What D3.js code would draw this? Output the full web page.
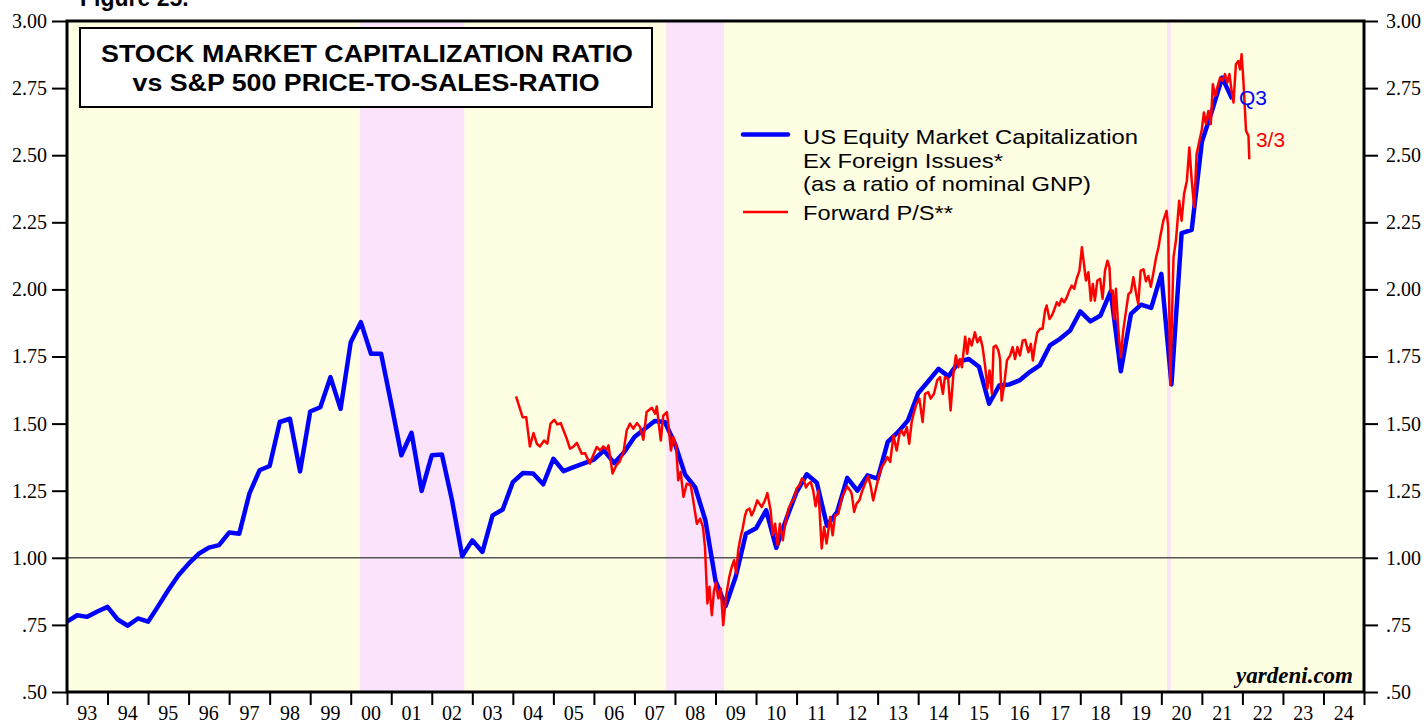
<!DOCTYPE html>
<html>
<head>
<meta charset="utf-8">
<script src="https://cdn.jsdelivr.net/npm/d3@7"></script>
<style>
body{margin:0;background:#fff}
svg{display:block}
</style>
</head>
<body>
<svg width="1426" height="721"></svg>
<script>
// quarterly market cap / GNP, first value = 1992 Q4 (plotted at quarter end)
var capStart = 1993.0
var capRatio = [0.762,0.786,0.780,0.800,0.817,0.770,0.747,0.774,0.762,0.820,
  0.880,0.935,0.978,1.015,1.038,1.047,1.094,1.090,1.239,1.326,
  1.342,1.506,1.518,1.322,1.545,1.561,1.673,1.555,1.803,1.878,
  1.760,1.760,1.574,1.382,1.466,1.249,1.382,1.385,1.214,1.006,
  1.065,1.022,1.158,1.180,1.282,1.316,1.314,1.274,1.369,1.323,
  1.338,1.352,1.366,1.400,1.353,1.394,1.450,1.480,1.510,1.506,
  1.425,1.310,1.262,1.140,0.915,0.820,0.930,1.090,1.110,1.177,
  1.037,1.146,1.245,1.311,1.280,1.120,1.170,1.298,1.250,1.307,
  1.295,1.432,1.468,1.512,1.613,1.658,1.704,1.676,1.730,1.741,
  1.712,1.574,1.642,1.646,1.661,1.692,1.717,1.791,1.816,1.847,
  1.918,1.881,1.903,1.993,1.695,1.909,1.943,1.931,2.058,1.646,
  2.210,2.222,2.550,2.665,2.789,2.709]

// forward price-to-sales [decimal year, value]
var forwardPS = [[2004.08,1.601],[2004.24,1.524],[2004.33,1.524],[2004.42,1.415],[2004.51,1.465],
  [2004.59,1.425],[2004.67,1.415],[2004.77,1.437],[2004.85,1.425],[2004.93,1.500],[2005.02,1.514],
  [2005.10,1.497],[2005.18,1.502],[2005.33,1.444],[2005.41,1.407],[2005.49,1.413],[2005.58,1.428],
  [2005.70,1.388],[2005.78,1.390],[2005.90,1.351],[2005.99,1.385],[2006.07,1.413],[2006.15,1.400],
  [2006.23,1.415],[2006.32,1.403],[2006.36,1.419],[2006.46,1.314],[2006.55,1.344],[2006.63,1.357],
  [2006.73,1.394],[2006.81,1.475],[2006.89,1.500],[2006.97,1.481],[2007.06,1.502],[2007.14,1.487],
  [2007.22,1.440],[2007.30,1.543],[2007.43,1.559],[2007.51,1.537],[2007.55,1.564],[2007.65,1.437],
  [2007.71,1.530],[2007.80,1.543],[2007.84,1.493],[2007.90,1.400],[2007.96,1.450],[2008.03,1.413],
  [2008.08,1.289],[2008.14,1.320],[2008.21,1.227],[2008.29,1.276],[2008.39,1.270],[2008.45,1.214],
  [2008.54,1.127],[2008.62,1.146],[2008.69,1.115],[2008.74,1.041],[2008.80,0.830],[2008.85,0.892],
  [2008.91,0.786],[2008.96,0.873],[2009.01,0.907],[2009.07,0.849],[2009.13,0.886],[2009.19,0.749],
  [2009.26,0.855],[2009.34,0.929],[2009.40,0.966],[2009.46,0.991],[2009.51,0.942],[2009.56,1.028],
  [2009.62,1.078],[2009.67,1.109],[2009.73,1.158],[2009.77,1.177],[2009.84,1.183],[2009.89,1.158],
  [2009.95,1.177],[2010.03,1.214],[2010.14,1.189],[2010.22,1.214],[2010.28,1.241],[2010.36,1.177],
  [2010.41,1.084],[2010.47,1.127],[2010.53,1.047],[2010.59,1.127],[2010.66,1.065],[2010.72,1.127],
  [2010.80,1.183],[2010.88,1.208],[2010.94,1.221],[2011.00,1.258],[2011.07,1.270],[2011.13,1.295],
  [2011.18,1.289],[2011.23,1.262],[2011.29,1.276],[2011.35,1.282],[2011.41,1.251],[2011.47,1.192],
  [2011.54,1.251],[2011.62,1.035],[2011.68,1.115],[2011.74,1.053],[2011.83,1.152],[2011.89,1.084],
  [2011.95,1.158],[2012.03,1.164],[2012.11,1.221],[2012.20,1.251],[2012.25,1.266],[2012.32,1.251],
  [2012.36,1.239],[2012.42,1.171],[2012.48,1.202],[2012.55,1.214],[2012.61,1.245],[2012.69,1.276],
  [2012.77,1.304],[2012.83,1.266],[2012.89,1.214],[2012.96,1.258],[2013.04,1.310],[2013.10,1.338],
  [2013.18,1.357],[2013.24,1.375],[2013.31,1.357],[2013.39,1.455],[2013.47,1.400],[2013.54,1.462],
  [2013.59,1.475],[2013.65,1.456],[2013.72,1.487],[2013.78,1.425],[2013.84,1.506],[2013.90,1.543],
  [2013.96,1.574],[2014.03,1.593],[2014.11,1.506],[2014.17,1.611],[2014.25,1.617],[2014.31,1.593],
  [2014.39,1.611],[2014.47,1.661],[2014.54,1.673],[2014.61,1.611],[2014.66,1.673],[2014.74,1.667],
  [2014.80,1.549],[2014.87,1.686],[2014.93,1.754],[2014.99,1.710],[2015.03,1.741],[2015.08,1.710],
  [2015.16,1.824],[2015.21,1.760],[2015.26,1.816],[2015.32,1.791],[2015.40,1.840],[2015.46,1.803],
  [2015.53,1.822],[2015.59,1.785],[2015.65,1.717],[2015.71,1.630],[2015.76,1.698],[2015.82,1.611],
  [2015.86,1.785],[2015.92,1.791],[2015.98,1.772],[2016.02,1.741],[2016.06,1.586],[2016.12,1.642],
  [2016.19,1.735],[2016.27,1.754],[2016.33,1.785],[2016.39,1.741],[2016.45,1.785],[2016.51,1.754],
  [2016.58,1.810],[2016.64,1.812],[2016.72,1.766],[2016.78,1.797],[2016.83,1.735],[2016.88,1.791],
  [2016.94,1.840],[2017.01,1.853],[2017.07,1.853],[2017.13,1.921],[2017.17,1.940],[2017.24,1.890],
  [2017.30,1.903],[2017.35,1.921],[2017.42,1.952],[2017.48,1.940],[2017.54,1.965],[2017.60,1.952],
  [2017.67,1.971],[2017.73,1.996],[2017.79,2.014],[2017.85,2.002],[2017.91,2.039],[2017.98,2.070],
  [2018.04,2.157],[2018.09,2.095],[2018.14,2.033],[2018.20,2.064],[2018.26,1.958],[2018.31,2.020],
  [2018.36,1.958],[2018.42,2.033],[2018.49,2.039],[2018.55,1.965],[2018.61,2.070],[2018.67,2.107],
  [2018.72,2.082],[2018.75,1.990],[2018.80,1.996],[2018.83,1.890],[2018.88,2.002],[2018.94,1.847],
  [2019.00,1.747],[2019.06,1.847],[2019.13,1.921],[2019.19,1.983],[2019.25,1.990],[2019.31,2.045],
  [2019.38,1.983],[2019.43,1.946],[2019.49,2.070],[2019.56,2.075],[2019.62,2.030],[2019.68,2.050],
  [2019.74,2.010],[2019.80,2.058],[2019.87,2.119],[2019.93,2.157],[2019.97,2.194],[2020.05,2.256],
  [2020.13,2.293],[2020.17,2.231],[2020.22,1.645],[2020.30,2.119],[2020.36,2.182],[2020.44,2.330],
  [2020.50,2.256],[2020.56,2.355],[2020.63,2.405],[2020.69,2.529],[2020.75,2.405],[2020.81,2.306],
  [2020.87,2.504],[2020.94,2.554],[2021.00,2.597],[2021.05,2.659],[2021.10,2.616],[2021.16,2.665],
  [2021.22,2.616],[2021.27,2.764],[2021.33,2.721],[2021.38,2.752],[2021.45,2.789],[2021.51,2.777],
  [2021.57,2.802],[2021.63,2.771],[2021.68,2.802],[2021.74,2.733],[2021.78,2.696],[2021.84,2.839],
  [2021.90,2.851],[2021.94,2.820],[2021.98,2.876],[2022.02,2.789],[2022.09,2.591],[2022.15,2.572],
  [2022.17,2.485]]

var bearMarkets = [[2000.23,2002.80],[2007.78,2009.21],[2020.14,2020.23]]
var yTicks = [0.5,0.75,1.0,1.25,1.5,1.75,2.0,2.25,2.5,2.75,3.0]
var years = d3.range(1993,2025)

var svg = d3.select("svg")
var plotL = 67, plotR = 1364, plotT = 21, plotB = 692

var x = d3.scaleLinear().domain([1993,2025]).range([plotL,plotR])
var y = d3.scaleLinear().domain([0.5,3.0]).range([plotB,plotT])

var fmt = function(v){ var s = d3.format(".2f")(v); return v < 1 ? s.slice(1) : s }

// background
svg.append("rect").attr("x",plotL).attr("y",plotT).attr("width",plotR-plotL).attr("height",plotB-plotT)
  .attr("fill","#fefee3")

svg.append("g").selectAll("rect").data(bearMarkets).enter().append("rect")
  .attr("x",function(d){ return x(d[0]) })
  .attr("width",function(d){ return x(d[1])-x(d[0]) })
  .attr("y",plotT).attr("height",plotB-plotT)
  .attr("fill","#fbe4fb")

// 1.00 reference line
svg.append("line").attr("x1",plotL).attr("x2",plotR).attr("y1",y(1)).attr("y2",y(1))
  .attr("stroke","#555").attr("stroke-width",1.5)

// axes
var yl = svg.append("g").attr("transform","translate("+plotL+",0)")
  .call(d3.axisLeft(y).tickValues(yTicks).tickSize(15).tickPadding(5).tickFormat(fmt))
var yr = svg.append("g").attr("transform","translate("+plotR+",0)")
  .call(d3.axisRight(y).tickValues(yTicks).tickSize(14).tickPadding(8).tickFormat(fmt))
var xb = svg.append("g").attr("transform","translate(0,"+plotB+")")
  .call(d3.axisBottom(x).tickValues(d3.range(1993,2026)).tickSize(13).tickFormat(""))

;[yl,yr,xb].forEach(function(g){
  g.select(".domain").remove()
  g.selectAll("line").attr("stroke","#000").attr("stroke-width",2)
  g.selectAll("text").attr("font-family","Liberation Serif, Times New Roman, serif")
    .attr("font-size",20).attr("fill","#000")
})

svg.append("g").selectAll("text").data(years).enter().append("text")
  .attr("x",function(d){ return x(d+0.5) }).attr("y",720)
  .attr("text-anchor","middle")
  .attr("font-family","Liberation Serif, Times New Roman, serif").attr("font-size",20)
  .text(function(d){ return String(d).slice(2) })

// series
var line = d3.line().x(function(d){ return x(d[0]) }).y(function(d){ return y(d[1]) })
var capData = capRatio.map(function(v,i){ return [capStart+i*0.25, v] })

svg.append("path").datum(capData).attr("d",line)
  .attr("fill","none").attr("stroke","#0000ff").attr("stroke-width",4.5)
  .attr("stroke-linejoin","round")
svg.append("path").datum(forwardPS).attr("d",line)
  .attr("fill","none").attr("stroke","#ff0000").attr("stroke-width",2.5)
  .attr("stroke-linejoin","round")

// frame
svg.append("rect").attr("x",plotL).attr("y",plotT).attr("width",plotR-plotL).attr("height",plotB-plotT)
  .attr("fill","none").attr("stroke","#000").attr("stroke-width",3)

// title box
svg.append("rect").attr("x",80).attr("y",28).attr("width",572).attr("height",79)
  .attr("fill","#fff").attr("stroke","#000").attr("stroke-width",2)
var title = svg.append("g").attr("font-family","Liberation Sans, Arial, sans-serif")
  .attr("font-weight","bold").attr("font-size",23).attr("text-anchor","middle")
title.append("text").attr("x",367).attr("y",62).attr("textLength",532)
  .attr("lengthAdjust","spacingAndGlyphs").text("STOCK MARKET CAPITALIZATION RATIO")
title.append("text").attr("x",366).attr("y",91).attr("textLength",467)
  .attr("lengthAdjust","spacingAndGlyphs").text("vs S&P 500 PRICE-TO-SALES-RATIO")

svg.append("text").attr("x",80).attr("y",6).attr("font-family","Liberation Sans, Arial, sans-serif")
  .attr("font-weight","bold").attr("font-size",23).text("Figure 25.")

// legend
var lg = svg.append("g").attr("font-family","Liberation Sans, Arial, sans-serif").attr("font-size",21)
lg.append("line").attr("x1",743).attr("x2",788).attr("y1",134.5).attr("y2",134.5)
  .attr("stroke","#0000ff").attr("stroke-width",4.5).attr("stroke-linecap","round")
lg.append("line").attr("x1",743).attr("x2",788).attr("y1",212).attr("y2",212)
  .attr("stroke","#ff0000").attr("stroke-width",2.5)
var legendText = [["US Equity Market Capitalization",144,335],["Ex Foreign Issues*",168,200],
  ["(as a ratio of nominal GNP)",191,288],["Forward P/S**",220,150]]
lg.selectAll("text").data(legendText).enter().append("text")
  .attr("x",803).attr("y",function(d){ return d[1] })
  .attr("textLength",function(d){ return d[2] }).attr("lengthAdjust","spacingAndGlyphs")
  .text(function(d){ return d[0] })

// end labels
svg.append("text").attr("x",1239).attr("y",105).attr("fill","#0000ff")
  .attr("font-family","Liberation Sans, Arial, sans-serif").attr("font-size",20)
  .attr("textLength",28).attr("lengthAdjust","spacingAndGlyphs").text("Q3")
svg.append("text").attr("x",1256).attr("y",147).attr("fill","#ff0000")
  .attr("font-family","Liberation Sans, Arial, sans-serif").attr("font-size",20)
  .attr("textLength",29).attr("lengthAdjust","spacingAndGlyphs").text("3/3")

svg.append("text").attr("x",1353).attr("y",683).attr("text-anchor","end")
  .attr("font-family","Liberation Serif, Times New Roman, serif").attr("font-size",23)
  .attr("font-weight","bold").attr("font-style","italic").text("yardeni.com")
</script>
</body>
</html>
